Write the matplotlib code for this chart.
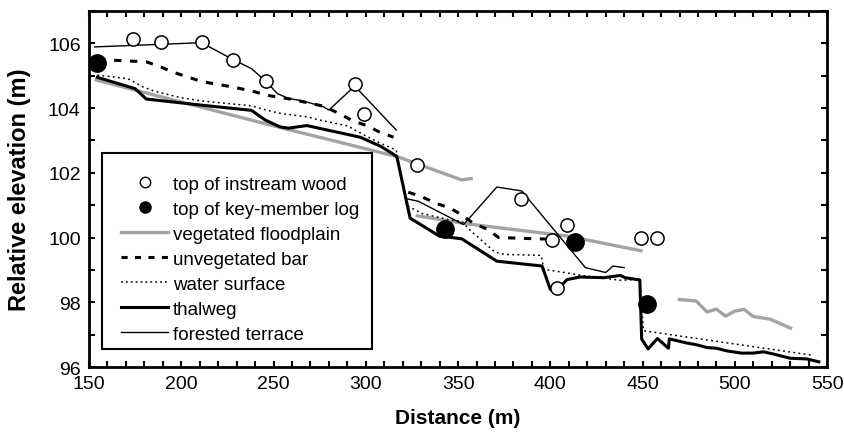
import numpy as np
import matplotlib
matplotlib.use("Agg")
import matplotlib.pyplot as plt
from matplotlib.lines import Line2D
from matplotlib.patches import Rectangle

plt.rcParams['font.family'] = ['Liberation Sans', 'DejaVu Sans']

nan = np.nan

# top of instream wood (open circles)
wood_x = [174, 189, 211, 228, 246, 294, 299, 328, 384, 401, 403.5, 409, 449, 458]
wood_y = [106.12, 106.05, 106.05, 105.5, 104.85, 104.75, 103.82, 102.23, 101.2, 99.92, 98.43, 100.4, 100.0, 100.0]

# top of key-member log (filled circles)
log_x = [154.5, 343, 413.5, 452.5]
log_y = [105.4, 100.25, 99.85, 97.95]

# vegetated floodplain (gray, three pieces)
veg_x = [153, 248, 317, 352, 358, nan, 327, 354, 410, 450, nan,
         469, 479, 485, 490, 495, 500, 505, 510, 519, 531]
veg_y = [104.88, 103.48, 102.5, 101.78, 101.83, nan, 100.68, 100.43, 100.04, 99.58, nan,
         98.09, 98.04, 97.7, 97.79, 97.57, 97.73, 97.78, 97.56, 97.48, 97.18]

# unvegetated bar (dashed)
bar_x = [155, 181, 189, 195, 211, 227, 238, 248, 259, 277, 286, 293, 301, 307, 315, nan,
         323, 330, 338, 346, 352, 358, 366, 372, 394, 401]
bar_y = [105.5, 105.43, 105.27, 105.12, 104.82, 104.66, 104.53, 104.38, 104.28, 104.06, 103.82,
         103.6, 103.45, 103.27, 103.1, nan,
         101.4, 101.27, 101.06, 100.9, 100.7, 100.45, 100.25, 100.0, 99.96, 99.95]

# water surface (dotted)
water_x = [154.5, 171, 179, 185, 199, 211, 238, 246, 254, 268, 275, 290, 299, 308, 316.5,
           322, 330, 345, 352, 357, 370, 375, 395, 396.5, 414, 418, 438, 448.5,
           450.5, 542.5]
water_y = [105.02, 104.91, 104.66, 104.53, 104.33, 104.22, 104.07, 103.94, 103.83, 103.73,
           103.63, 103.45, 103.17, 102.91, 102.7,
           101.0, 100.75, 100.55, 100.5, 100.2, 99.55, 99.48, 99.45, 99.02, 98.86, 98.82, 98.68, 98.71,
           97.12, 96.36]

# thalweg (thick black)
thal_x = [154.5, 175, 181, 211, 238, 245.5, 253.5, 258, 268, 297, 308, 316.5, 317, 323, 324,
          340, 344, 352, 371, 395.5, 400, 402.5, 409, 416, 429, 438, 440.5, 448.5,
          449.5, 453, 458, 464, 464.5, 474, 479, 485, 490, 495.5, 503.5, 510, 515.5, 521,
          530, 539, 545.5]
thal_y = [104.95, 104.6, 104.28, 104.09, 103.93, 103.63, 103.42, 103.38, 103.46, 103.1, 102.82,
          102.52, 102.45, 100.86, 100.6,
          100.04, 100.02, 99.96, 99.27, 99.12, 98.4, 98.3, 98.7, 98.78, 98.76, 98.83, 98.76, 98.69,
          96.86, 96.56, 96.88, 96.58, 96.87, 96.74, 96.69, 96.6, 96.58, 96.5, 96.43, 96.43,
          96.47, 96.4, 96.27, 96.25, 96.16]

# forested terrace (thin black, two pieces)
terr_x = [153, 211, 228, 238, 246, 252, 258, 266, 277, 280, 294, 316.5, nan,
          322, 328.5, 353, 371, 384.5, 419, 430, 434, 440]
terr_y = [105.89, 106.02, 105.5, 105.22, 104.82, 104.45, 104.3, 104.22, 104.04, 103.94, 104.68,
          103.32, nan,
          101.2, 101.12, 100.4, 101.56, 101.44, 99.07, 98.92, 99.12, 99.07]

labels = ['top of instream wood', 'top of key-member log', 'vegetated floodplain',
          'unvegetated bar', 'water surface', 'thalweg', 'forested terrace']

fig = plt.figure(figsize=(8.44, 4.39), dpi=100)
ax = fig.add_axes([0.1055, 0.1617, 0.8745, 0.811])

gray = '#a3a3a3'
ax.plot(veg_x, veg_y, color=gray, lw=2.4, solid_capstyle='butt', zorder=2)
ax.plot(bar_x, bar_y, color='black', lw=2.2, ls=(0, (2.4, 2.8)), zorder=3)
ax.plot(water_x, water_y, color='black', lw=1.1, ls=(0, (1.2, 2.2)), zorder=3)
ax.plot(thal_x, thal_y, color='black', lw=2.2, zorder=4)
ax.plot(terr_x, terr_y, color='black', lw=1.0, zorder=4)
ax.plot(wood_x, wood_y, 'o', mfc='white', mec='black', mew=1.1, ms=9.5, ls='none', zorder=5)
ax.plot(log_x, log_y, 'o', color='black', ms=12.5, ls='none', zorder=6)

ax.set_xlim(150, 550)
ax.set_ylim(96, 107)
ax.set_xticks(np.arange(150, 551, 50))
ax.set_xticks(np.arange(150, 551, 10), minor=True)
ax.set_yticks(np.arange(96, 107, 2))
ax.set_yticks(np.arange(96, 108, 1), minor=True)
for which in ('major', 'minor'):
    ax.tick_params(axis='both', which=which, direction='in', length=4.5, width=1.5,
                   top=True, right=True, labelsize=14, pad=6)
for s in ax.spines.values():
    s.set_linewidth(2.0)

ax.set_xlabel('Distance (m)', fontsize=15, fontweight='bold', labelpad=11)
ax.set_ylabel('Relative elevation (m)', fontsize=17, fontweight='bold', labelpad=12)

# legend box drawn separately so the side padding can be wider than the top/bottom
ax.add_patch(Rectangle((0.0176, 0.0506), 0.3655, 0.5506, transform=ax.transAxes,
                       fc='white', ec='black', lw=1.5, zorder=7))

handles = [
    Line2D([], [], marker='o', mfc='white', mec='black', mew=1.0, ms=7.5, ls='none'),
    Line2D([], [], marker='o', color='black', ms=8, ls='none'),
    Line2D([], [], color=gray, lw=2.4),
    Line2D([], [], color='black', lw=2.2, ls=(0, (2.0, 2.4))),
    Line2D([], [], color='black', lw=1.1, ls=(0, (1.2, 2.0))),
    Line2D([], [], color='black', lw=2.2),
    Line2D([], [], color='black', lw=1.0),
]
leg = ax.legend(handles, labels, loc='upper left', bbox_to_anchor=(0.0434, 0.537),
                fontsize=13.5, frameon=False, handlelength=2.5, handletextpad=0.25,
                labelspacing=0.42, borderpad=0, borderaxespad=0)
leg.set_zorder(8)

fig.savefig('out.png', dpi=100)
